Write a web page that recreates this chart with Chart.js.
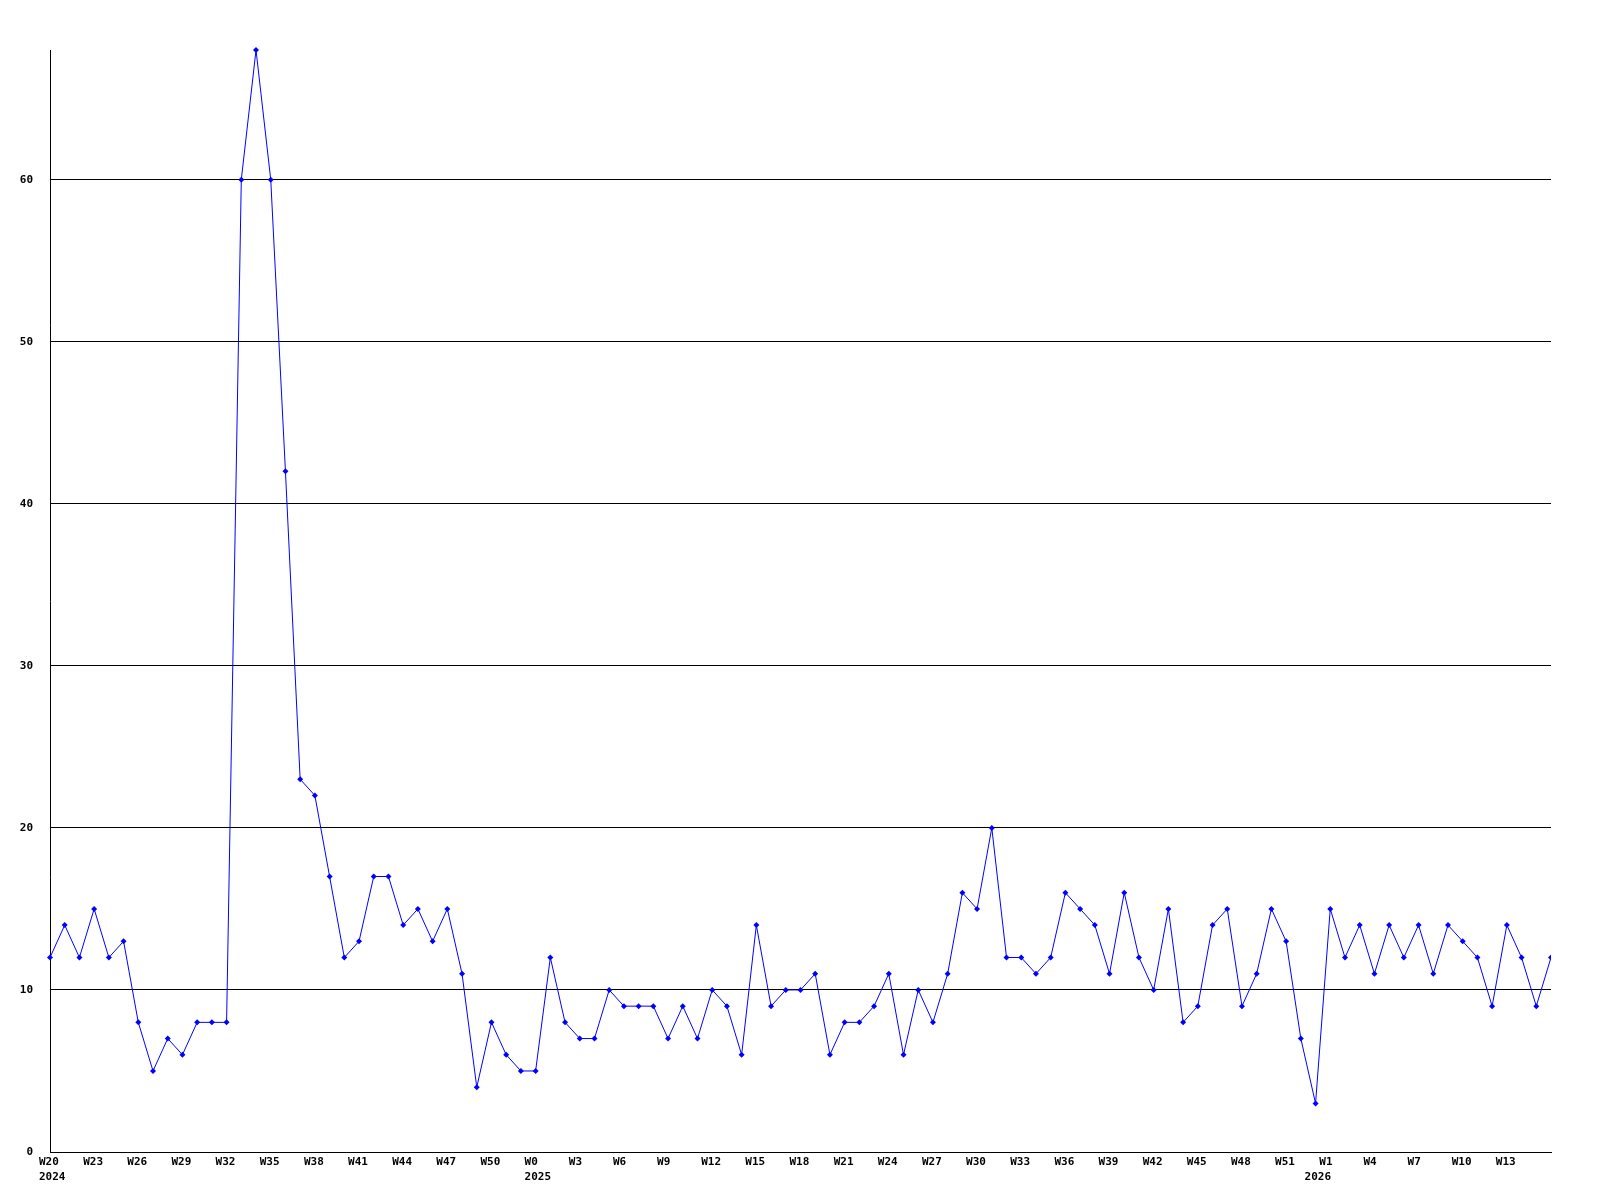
<!DOCTYPE html>
<html>
<head>
<meta charset="utf-8">
<script src="https://cdn.jsdelivr.net/npm/chart.js@4/dist/chart.umd.min.js"></script>
<style>
  body { margin: 0; background: #ffffff; }
  canvas { display: block; }
</style>
</head>
<body>
<canvas id="weekChart" width="1600" height="1200"></canvas>
<script>
// weeks on the x axis (2024 W20 .. 2026 W16)
const weeks = [
    'W20','W21','W22','W23','W24','W25','W26','W27','W28','W29','W30','W31','W32','W33','W34','W35','W36',
    'W37','W38','W39','W40','W41','W42','W43','W44','W45','W46','W47','W48','W49','W50','W51','W52',
    'W0','W1','W2','W3','W4','W5','W6','W7','W8','W9','W10','W11','W12','W13','W14','W15','W16','W17',
    'W18','W19','W20','W21','W22','W23','W24','W25','W26','W27','W28','W29','W30','W31','W32','W33',
    'W34','W35','W36','W37','W38','W39','W40','W41','W42','W43','W44','W45','W46','W47','W48','W49',
    'W50','W51','W52',
    'W0','W1','W2','W3','W4','W5','W6','W7','W8','W9','W10','W11','W12','W13','W14','W15','W16'
];

// year written under the first week of each year
const yearTickIndex = [0, 33, 86];
const yearTickText = ['2024', '2025', '2026'];

// weekly counts
const counts = [
    12, 14, 12, 15, 12, 13, 8, 5, 7, 6, 8, 8, 8, 60, 68, 60, 42, 23, 22, 17,
    12, 13, 17, 17, 14, 15, 13, 15, 11, 4, 8, 6, 5, 5, 12, 8, 7, 7, 10, 9,
    9, 9, 7, 9, 7, 10, 9, 6, 14, 9, 10, 10, 11, 6, 8, 8, 9, 11, 6, 10,
    8, 11, 16, 15, 20, 12, 12, 11, 12, 16, 15, 14, 11, 16, 12, 10, 15, 8, 9, 14,
    15, 9, 11, 15, 13, 7, 3, 15, 12, 14, 11, 14, 12, 14, 11, 14, 13, 12, 9, 14,
    12, 9, 12
];

const yTicks = { min: 0, max: 68, step: 10 };

const tickFont = { family: '"DejaVu Sans Mono", monospace', size: 11, weight: 'bold', lineHeight: '15px' };

const ctx = document.getElementById('weekChart').getContext('2d');

const chart = new Chart(ctx, {
    type: 'line',
    data: {
        labels: weeks,
        datasets: [{
            data: counts,
            borderColor: '#0000ff',
            backgroundColor: '#0000ff',
            borderWidth: 1,
            tension: 0,
            fill: false,
            pointStyle: 'rectRot',
            pointRadius: 3,
            pointBorderWidth: 0,
            pointBackgroundColor: '#0000ff',
            clip: { left: 5, top: 5, right: 0, bottom: 5 }
        }]
    },
    options: {
        responsive: false,
        animation: false,
        layout: { padding: { top: 50, right: 49, left: 0, bottom: 0 } },
        plugins: {
            legend: { display: false },
            tooltip: { enabled: false }
        },
        scales: {
            x: {
                offset: false,
                grid: { display: false, drawTicks: false },
                border: { display: true, color: '#000000', width: 1 },
                ticks: {
                    autoSkip: false,
                    maxRotation: 0,
                    minRotation: 0,
                    align: 'start',
                    labelOffset: -11,
                    padding: 3,
                    color: '#000000',
                    font: tickFont,
                    callback: function(value, i) {
                        // week every third tick (not the last one at the edge), year at its first week
                        const week = (i % 3 === 0 && i !== weeks.length - 1) ? weeks[i] : '';
                        const y = yearTickIndex.indexOf(i);
                        return y >= 0 ? [week, yearTickText[y]] : week;
                    }
                },
                afterFit: function(scale) { scale.height = 48; }
            },
            y: {
                min: yTicks.min,
                max: yTicks.max,
                grid: { color: '#000000', lineWidth: 1, drawTicks: false },
                border: { display: true, color: '#000000', width: 1 },
                ticks: {
                    stepSize: yTicks.step,
                    includeBounds: false,
                    padding: 17,
                    color: '#000000',
                    font: tickFont
                },
                afterFit: function(scale) { scale.width = 50; }
            }
        }
    }
});
</script>
</body>
</html>
